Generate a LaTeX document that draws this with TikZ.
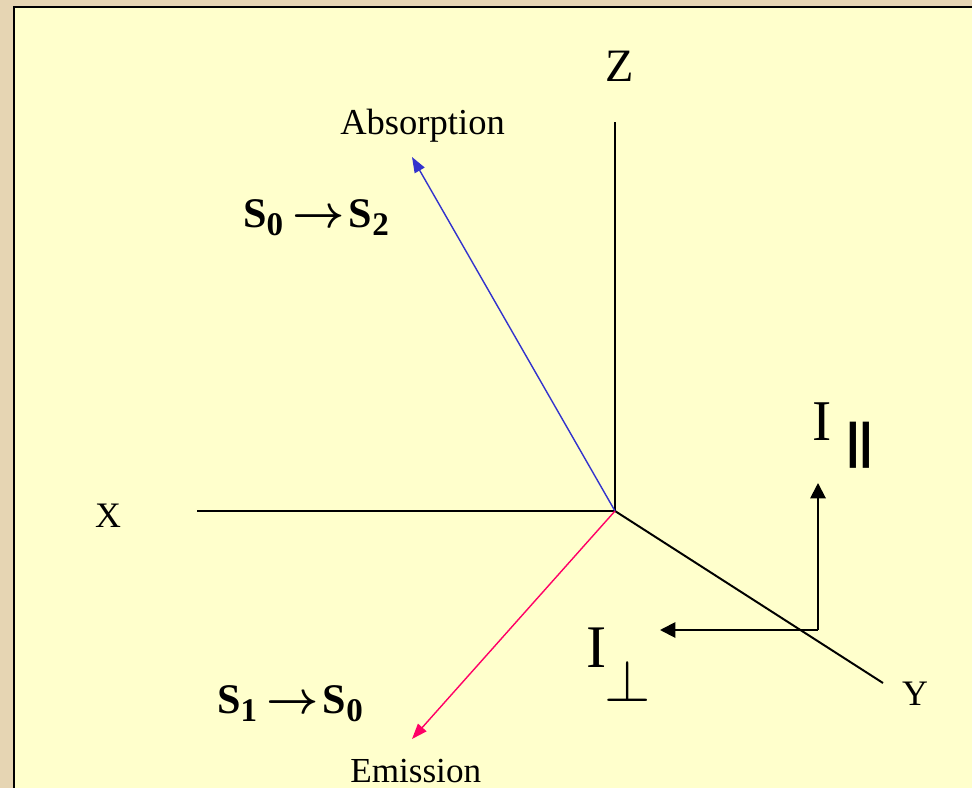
\documentclass[tikz,border=0pt]{standalone}
\usepackage{fontspec}
\setmainfont{Liberation Serif}
\newfontfamily\sansbar{Liberation Sans}
\usepackage{graphicx}
\usetikzlibrary{arrows.meta}

\definecolor{pannello}{HTML}{FFFFCC}
\definecolor{cornice}{HTML}{E6D5B3}
\definecolor{assorb}{HTML}{3333CC}
\definecolor{emiss}{HTML}{FF0066}

% pedice abbassato per gli stati
\newcommand{\pedice}[1]{\raisebox{-5.7pt}{\fontsize{23.5}{28}\selectfont #1}}
% freccia della transizione
\newcommand{\freccina}{\scalebox{1.3}{\fontsize{24.88}{30}\selectfont\boldmath$\rightarrow$}}

\begin{document}
\begin{tikzpicture}[x=0.025cm, y=-0.025cm,
    asse/.style={line width=1.4pt},
    vettore/.style={line width=1pt, -{Triangle[length=11pt,width=8pt]}},
    freccia/.style={line width=1.4pt, -{Triangle[length=11pt,width=11pt]}},
    etichetta/.style={inner sep=0pt, anchor=base, font=\fontsize{25.5}{30}\selectfont},
    transizione/.style={inner sep=0pt, anchor=base west, font=\fontsize{30}{36}\selectfont\bfseries},
    intensita/.style={inner sep=0pt, anchor=base west, font=\fontsize{41}{48}\selectfont}]

        % Sfondo e pannello giallo
        \useasboundingbox (0,0) rectangle (972,788);
        \fill[cornice] (0,0) rectangle (972,788);
        \fill[pannello] (14,7) rectangle (972,788);
        \draw[line width=1.6pt] (14,788) -- (14,7) -- (972,7);

        % Origine e estremi degli assi
        \coordinate (O) at (615,511);
        \coordinate (Zfine) at (615,122);
        \coordinate (Xfine) at (197,511);
        \coordinate (Yfine) at (883,683);

        % Assi cartesiani
        \draw[asse] (O) -- (Zfine);
        \draw[asse] (O) -- (Xfine);
        \draw[asse] (O) -- (Yfine);

        % Nomi degli assi
        \node[etichetta, font=\fontsize{33}{38}\selectfont] (Z) at (620,82) {Z};
        \node[etichetta] (X) at (108,527) {X};
        \node[etichetta] (Y) at (915,705) {Y};

        % Dipoli di assorbimento ed emissione
        \coordinate (assorbTip) at (412,157);
        \coordinate (emissTip) at (412,739);
        \draw[vettore, assorb] (O) -- (assorbTip);
        \draw[vettore, emiss] (O) -- (emissTip);

        \node[etichetta, anchor=base west, font=\fontsize{26}{30}\selectfont] (assorbimento) at (340,135) {Absorption};
        \node[etichetta, anchor=base west, font=\fontsize{25}{30}\selectfont] (emissione) at (350,782) {Emission};

        % Transizioni
        \node[transizione] (s02) at (243,227) {S\pedice{0}\hspace{6.5pt}\freccina\hspace{3pt}S\pedice{2}};
        \node[transizione] (s10) at (217,713) {S\pedice{1}\hspace{6.5pt}\freccina\hspace{3pt}S\pedice{0}};

        % Componenti polarizzate
        \coordinate (angolo) at (818,630);
        \coordinate (parTip) at (818,483);
        \coordinate (perpTip) at (660,630);
        \draw[freccia] (angolo) -- (parTip);
        \draw[freccia] (angolo) -- (perpTip);

        \node[intensita] (Ipar) at (812,440) {I};
        \node[inner sep=0pt, anchor=base west, font=\sansbar\bfseries\fontsize{34.7}{40}\selectfont] (par) at (846,457) {||};
        \node[intensita, font=\fontsize{43}{50}\selectfont] (Iperp) at (586,667) {I};
        \node[inner sep=0pt, anchor=south, font=\fontsize{24.88}{30}\selectfont] (perp) at (628,702) {\scalebox{1.7}{$\perp$}};

    \end{tikzpicture}
\end{document}
